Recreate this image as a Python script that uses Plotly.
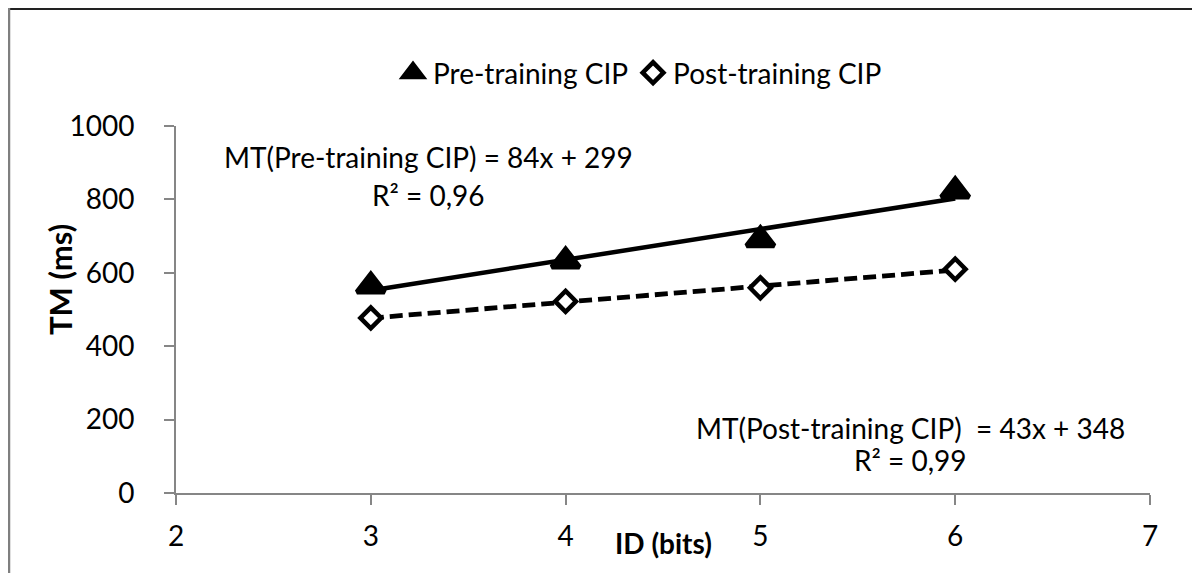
import numpy as np
import plotly.graph_objects as go

# ---- data ----
id_bits = [3, 4, 5, 6]
pre_training = [564, 632, 690, 823]
post_training = [477, 522, 559, 610]
x_ticks = [2, 3, 4, 5, 6, 7]
y_ticks = [0, 200, 400, 600, 800, 1000]
series_names = ["Pre-training CIP", "Post-training CIP"]
eq_pre = ["MT(Pre-training CIP) = 84x + 299", "R² = 0,96"]
eq_post = ["MT(Post-training CIP)  = 43x + 348", "R² = 0,99"]

FONT = "Lato"
FS = 28
AXIS_COLOR = "#868686"

# linear trend lines (least squares, as the spreadsheet does)
xs = np.array(id_bits, dtype=float)
trend_x = [xs.min(), xs.max()]
pre_coef = np.polyfit(xs, pre_training, 1)
post_coef = np.polyfit(xs, post_training, 1)
pre_trend = np.polyval(pre_coef, trend_x)
post_trend = np.polyval(post_coef, trend_x)

fig = go.Figure()

fig.add_trace(go.Scatter(x=trend_x, y=pre_trend, mode="lines",
                         line=dict(color="black", width=4.5),
                         showlegend=False, hoverinfo="skip"))
fig.add_trace(go.Scatter(x=trend_x, y=post_trend, mode="lines",
                         line=dict(color="black", width=4.8, dash="13px,6px"),
                         showlegend=False, hoverinfo="skip"))

fig.add_trace(go.Scatter(x=id_bits, y=pre_training, mode="markers",
                         name=series_names[0],
                         marker=dict(symbol="triangle-up", size=24, color="black",
                                     line=dict(color="black", width=5))))
fig.add_trace(go.Scatter(x=id_bits, y=post_training, mode="markers",
                         name=series_names[1],
                         marker=dict(symbol="diamond", size=16, color="white",
                                     line=dict(color="black", width=4.5))))

# page offset: the page body adds ~8px around the figure
OFF = 8
W, H = 1200 - OFF, 573 - OFF
L, T = 176 - OFF, 126 - OFF
B = H - (493 - OFF)
R = W - (1150 - OFF)
pw, ph = W - L - R, H - T - B


def px(xp):
    return (xp - OFF - L) / pw


def py(yp):
    return (H - B - (yp - OFF)) / ph


axis_common = dict(showline=True, linecolor=AXIS_COLOR, linewidth=2,
                   ticks="outside", ticklen=10, tickwidth=2, tickcolor=AXIS_COLOR,
                   showgrid=False, zeroline=False,
                   tickfont=dict(family=FONT, size=FS, color="black"))

fig.update_layout(
    width=W, height=H,
    margin=dict(l=L, r=R, t=T, b=B),
    paper_bgcolor="white", plot_bgcolor="white",
    font=dict(family=FONT, size=FS, color="black"),
    xaxis=dict(range=[2, 7], tickvals=x_ticks, ticklabelstandoff=7, **axis_common),
    yaxis=dict(range=[0, 1000], tickvals=y_ticks, ticklabelstandoff=24, **axis_common),
    legend=dict(orientation="h", x=px(640), y=py(73), xanchor="center", yanchor="middle",
                font=dict(family=FONT, size=FS, color="black"),
                itemwidth=30, bgcolor="rgba(0,0,0,0)"),
    showlegend=True,
)

annotations = [
    dict(text=eq_pre[0], x=px(428), y=py(157)),
    dict(text=eq_pre[1], x=px(428), y=py(195)),
    dict(text=eq_post[0], x=px(910), y=py(428)),
    dict(text=eq_post[1], x=px(910), y=py(460)),
]
for a in annotations:
    fig.add_annotation(xref="paper", yref="paper", showarrow=False,
                       xanchor="center", yanchor="middle",
                       font=dict(family=FONT, size=FS, color="black"), **a)

# axis titles
fig.add_annotation(text="<b>TM (ms)</b>", xref="paper", yref="paper",
                   x=px(60), y=py(280), textangle=-90, showarrow=False,
                   xanchor="center", yanchor="middle",
                   font=dict(family=FONT, size=31, color="black"))
fig.add_annotation(text="<b>ID (bits)</b>", xref="paper", yref="paper",
                   x=px(663), y=py(543), showarrow=False,
                   xanchor="center", yanchor="middle",
                   font=dict(family=FONT, size=FS, color="black"))

# chart frame (top and left edges visible in the reference)
fig.add_shape(type="line", xref="paper", yref="paper",
              x0=px(OFF), x1=px(1200), y0=py(OFF + 1), y1=py(OFF + 1),
              line=dict(color="#222222", width=2))
fig.add_shape(type="line", xref="paper", yref="paper",
              x0=px(OFF + 1), x1=px(OFF + 1), y0=py(OFF), y1=py(573),
              line=dict(color="#7f7f7f", width=2.5))

fig.write_html("out.html")
